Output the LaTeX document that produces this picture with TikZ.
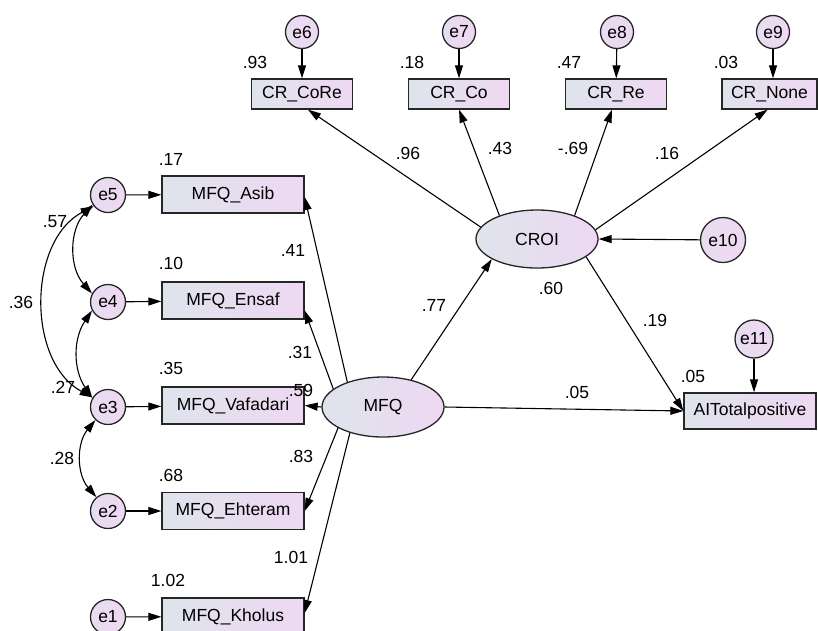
\documentclass[tikz,border=0pt]{standalone}
\usepackage{fontspec}
\setmainfont{Liberation Sans}
\usetikzlibrary{arrows.meta,shapes.geometric}

\definecolor{fillL}{RGB}{222,228,236}
\definecolor{fillR}{RGB}{238,216,242}

\begin{document}
\begin{tikzpicture}[auto,x=1pt,y=1pt,
  font=\fontsize{17.5}{20}\selectfont,
  obs/.style={draw=black!85,line width=1.3pt,rectangle,left color=fillL,
    right color=fillR,minimum width=142pt,minimum height=37pt,inner sep=0pt},
  top/.style={obs,minimum width=101pt,minimum height=30pt},
  err/.style={draw=black!85,line width=1.3pt,circle,left color=fillL!40!fillR,
    right color=fillR,minimum size=35pt,inner sep=0pt},
  lat/.style={draw=black!85,line width=1.3pt,ellipse,left color=fillL,
    right color=fillR,minimum width=122pt,minimum height=60pt,inner sep=0pt},
  num/.style={inner sep=0pt},
  arr/.style={-{Triangle[length=13pt,width=8pt]},line width=1.1pt},
  cov/.style={{Triangle[length=13pt,width=8pt]}-{Triangle[length=13pt,width=8pt]},
    line width=1.1pt}]
  \useasboundingbox (0,0) rectangle (818,-630);

  % Draw latent variables
  \node [lat] (MFQ) at (383,-407) {MFQ};
  \node [lat,minimum height=58pt] (CROI) at (537,-239) {CROI};

  % Draw indicators of CROI with their errors
  \node [top] (crCoRe) at (302,-94) {CR\_CoRe};
  \node [top] (crCo) at (459,-94) {CR\_Co};
  \node [top] (crRe) at (616,-94) {CR\_Re};
  \node [top,minimum width=95pt] (crNone) at (769.5,-94) {CR\_None};
  \node [err,minimum size=33pt] (e6) at (302,-32) {e6};
  \node [err,minimum size=33pt] (e7) at (459,-32) {e7};
  \node [err,minimum size=33pt] (e8) at (617,-32) {e8};
  \node [err,minimum size=33pt] (e9) at (773,-32) {e9};

  % Draw indicators of MFQ with their errors
  \node [obs] (mfqAsib) at (233,-194.5) {MFQ\_Asib};
  \node [obs] (mfqEnsaf) at (233,-300.5) {MFQ\_Ensaf};
  \node [obs] (mfqVafadari) at (233,-405.5) {MFQ\_Vafadari};
  \node [obs] (mfqEhteram) at (233,-511) {MFQ\_Ehteram};
  \node [obs] (mfqKholus) at (233,-616.5) {MFQ\_Kholus};
  \node [err] (e5) at (108,-195) {e5};
  \node [err] (e4) at (108,-302) {e4};
  \node [err] (e3) at (108,-407) {e3};
  \node [err] (e2) at (108,-511) {e2};
  \node [err] (e1) at (108,-617) {e1};

  % Draw outcome and disturbances
  \node [obs,minimum width=132pt,minimum height=36pt] (AI) at (750,-411) {AITotalpositive};
  \node [err,minimum size=45pt] (e10) at (723,-240) {e10};
  \node [err,minimum size=38pt] (e11) at (754,-339) {e11};

  % Error arrows
  \draw [arr] (e6) -- (crCoRe);
  \draw [arr] (e7) -- (crCo);
  \draw [arr] (e8) -- (crRe);
  \draw [arr] (e9) -- (e9 |- crNone.north);
  \draw [arr] (e5) -- (mfqAsib);
  \draw [arr] (e4) -- (mfqEnsaf);
  \draw [arr] (e3) -- (mfqVafadari);
  \draw [arr] (e2) -- (mfqEhteram);
  \draw [arr] (e1) -- (mfqKholus);
  \draw [arr] (e10) -- (CROI.east);
  \draw [arr] (e11) -- (e11 |- AI.north);

  % Loadings and paths
  \draw [arr] (CROI.168) -- ([xshift=6pt]crCoRe.south);
  \draw [arr] (CROI.148) -- (crCo.south);
  \draw [arr] (CROI.32) -- ([xshift=-4pt]crRe.south);
  \draw [arr] (CROI.9) -- ([xshift=-2pt]crNone.south);
  \draw [arr] (MFQ.145) -- ([yshift=-2.5pt]mfqAsib.east);
  \draw [arr] (MFQ.160) -- ([yshift=-10pt]mfqEnsaf.east);
  \draw [arr] (MFQ.west) -- (mfqVafadari.east);
  \draw [arr] (MFQ.205) -- (mfqEhteram.east);
  \draw [arr] (MFQ.218) -- ([yshift=3.5pt]mfqKholus.east);
  \draw [arr] (MFQ.44) -- (CROI.204);
  \draw [arr] (MFQ.east) -- (AI.west);
  \draw [arr] (CROI.-20) -- (AI.west);

  % Error covariances
  \draw [cov] (e5.212) to [bend right=42] (e4.152);
  \draw [cov] (e5.218) to [bend right=62] (e3.148);
  \draw [cov] (e4.208) to [bend right=34] (e3.150);
  \draw [cov] (e3.226) to [bend right=40] (e2.130);

  % Squared multiple correlations
  \node [num] (r2CoRe) at (255,-62) {.93};
  \node [num] (r2Co) at (412,-62) {.18};
  \node [num] (r2Re) at (569,-62) {.47};
  \node [num] (r2None) at (726,-62) {.03};
  \node [num] (r2Asib) at (171,-159) {.17};
  \node [num] (r2Ensaf) at (171,-263) {.10};
  \node [num] (r2Vafadari) at (171,-368) {.35};
  \node [num] (r2Ehteram) at (171,-475) {.68};
  \node [num] (r2Kholus) at (168,-580) {1.02};
  \node [num] (r2CROI) at (551,-288) {.60};
  \node [num] (r2AI) at (693,-376) {.05};

  % Path coefficients
  \node [num] (wCoRe) at (408,-153) {.96};
  \node [num] (wCo) at (500,-148) {.43};
  \node [num] (wRe) at (573,-148) {-.69};
  \node [num] (wNone) at (667,-153) {.16};
  \node [num] (wAsib) at (293,-250) {.41};
  \node [num] (wEnsaf) at (300,-352) {.31};
  \node [num] (wVafadari) at (301,-390) {.59};
  \node [num] (wEhteram) at (301,-456) {.83};
  \node [num] (wKholus) at (291,-557) {1.01};
  \node [num] (wCROI) at (434,-305) {.77};
  \node [num] (wAIm) at (577,-392) {.05};
  \node [num] (wAIc) at (655,-320) {.19};
  \node [num] (c54) at (55,-222) {.57};
  \node [num] (c53) at (21,-302) {.36};
  \node [num] (c43) at (63,-387) {.27};
  \node [num] (c32) at (62,-458) {.28};

\end{tikzpicture}
\end{document}
